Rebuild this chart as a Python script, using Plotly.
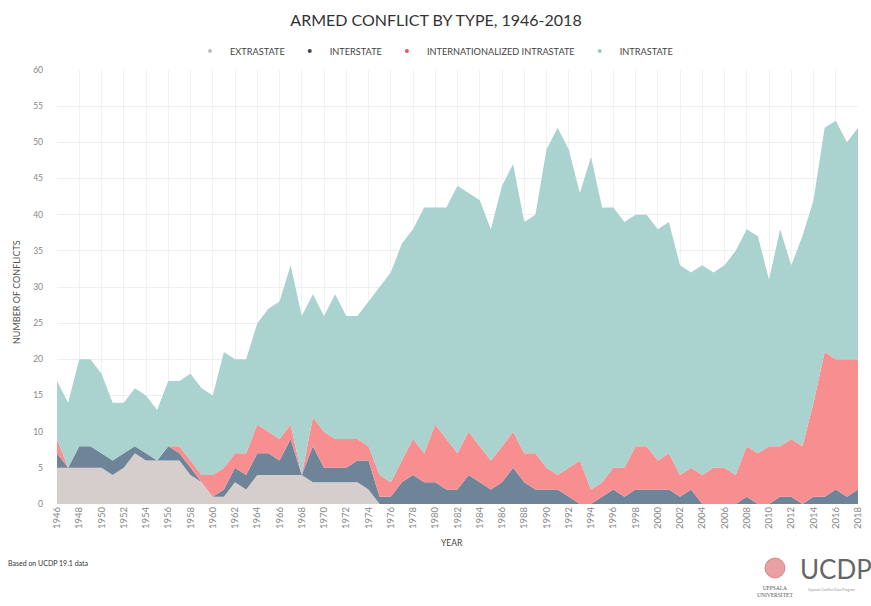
import plotly.graph_objects as go

years = list(range(1946, 2019))

extrastate = [5, 5, 5, 5, 5, 4, 5, 7, 6, 6, 6, 6, 4, 3, 1, 1, 3, 2, 4, 4,
              4, 4, 4, 3, 3, 3, 3, 3, 2, 0, 0, 0, 0, 0, 0, 0, 0, 0, 0, 0,
              0, 0, 0, 0, 0, 0, 0, 0, 0, 0, 0, 0, 0, 0, 0, 0, 0, 0, 0, 0,
              0, 0, 0, 0, 0, 0, 0, 0, 0, 0, 0, 0, 0]
interstate = [2, 0, 3, 3, 2, 2, 2, 1, 1, 0, 2, 1, 1, 0, 0, 1, 2, 2, 3, 3,
              2, 5, 0, 5, 2, 2, 2, 3, 4, 1, 1, 3, 4, 3, 3, 2, 2, 4, 3, 2,
              3, 5, 3, 2, 2, 2, 1, 0, 0, 1, 2, 1, 2, 2, 2, 2, 1, 2, 0, 0,
              0, 0, 1, 0, 0, 1, 1, 0, 1, 1, 2, 1, 2]
internationalized = [2, 0, 0, 0, 0, 0, 0, 0, 0, 0, 0, 1, 1, 1, 3, 3, 2, 3, 4, 3,
                     3, 2, 0, 4, 5, 4, 4, 3, 2, 3, 2, 3, 5, 4, 8, 7, 5, 6, 5, 4,
                     5, 5, 4, 5, 3, 2, 4, 6, 2, 2, 3, 4, 6, 6, 4, 5, 3, 3, 4, 5,
                     5, 4, 7, 7, 8, 7, 8, 8, 13, 20, 18, 19, 18]
intrastate = [8, 9, 12, 12, 11, 8, 7, 8, 8, 7, 9, 9, 12, 12, 11, 16, 13, 13, 14, 17,
              19, 22, 22, 17, 16, 20, 17, 17, 20, 26, 29, 30, 29, 34, 30, 32, 37, 33, 34, 32,
              36, 37, 32, 33, 44, 48, 44, 37, 46, 38, 36, 34, 32, 32, 32, 32, 29, 27, 29, 27,
              28, 31, 30, 30, 23, 30, 24, 29, 28, 31, 33, 30, 32]

series_names = ["EXTRASTATE", "INTERSTATE", "INTERNATIONALIZED INTRASTATE", "INTRASTATE"]
series_values = [extrastate, interstate, internationalized, intrastate]
fill_colors = ["#d6cecc", "#6e8499", "#f78e90", "#aad2cf"]
dot_colors = ["#c8bfbd", "#3a4a5c", "#e8506a", "#9cc9c6"]

FONT = "Lato, 'Open Sans', sans-serif"
W, H = 871, 606
L, R, T, B = 57, 13, 70, 102
PW, PH = W - L - R, H - T - B


def px_x(x):
    return (x - L) / PW


def px_y(y):
    return (H - B - y) / PH


fig = go.Figure()
for name, vals, fc in zip(series_names, series_values, fill_colors):
    fig.add_trace(go.Scatter(
        x=years, y=vals, name=name, stackgroup="one", mode="none",
        fillcolor=fc, showlegend=False, hoverinfo="x+y+name"))
for name, dc in zip(series_names, dot_colors):
    fig.add_trace(go.Scatter(
        x=[None], y=[None], name=name, mode="markers",
        marker=dict(size=4, color=dc), showlegend=True))

fig.update_layout(
    width=W, height=H,
    margin=dict(l=L, r=R, t=T, b=B, autoexpand=False),
    paper_bgcolor="white", plot_bgcolor="white",
    font=dict(family=FONT, color="#555"),
    title=dict(text="ARMED CONFLICT BY TYPE, 1946-2018",
               x=436 / W, xref="container", xanchor="center",
               y=1 - 20 / H, yref="container", yanchor="middle",
               font=dict(size=16, color="#333", family=FONT)),
    legend=dict(orientation="h", traceorder="normal",
                x=434 / W, xref="container", xanchor="center",
                y=1 - 51 / H, yref="container", yanchor="middle",
                font=dict(size=9.2, color="#444", family=FONT),
                itemwidth=30, bgcolor="rgba(0,0,0,0)"),
    xaxis=dict(range=[1946, 2018], tick0=1946, dtick=2, tickangle=-90,
               showgrid=True, gridcolor="#f1f1f1", gridwidth=1,
               zeroline=False, showline=False, ticks="",
               tickfont=dict(size=9.5, color="#888", family=FONT)),
    yaxis=dict(range=[0, 60], dtick=5, showgrid=True, gridcolor="#eeeeee",
               zeroline=False, showline=False, ticks="", ticklabelstandoff=13,
               tickfont=dict(size=8.5, color="#888", family=FONT)),
    hovermode="x unified",
)

annotations = [
    dict(text="NUMBER OF CONFLICTS", x=px_x(16), y=px_y(292), xref="paper", yref="paper",
         textangle=-90, showarrow=False, font=dict(size=9, color="#555", family=FONT),
         xanchor="center", yanchor="middle"),
    dict(text="YEAR", x=px_x(452), y=px_y(543), xref="paper", yref="paper",
         showarrow=False, font=dict(size=8.5, color="#444", family=FONT),
         xanchor="center", yanchor="middle"),
    dict(text="Based on UCDP 19.1 data", x=px_x(6), y=px_y(563), xref="paper", yref="paper",
         showarrow=False, font=dict(size=7, color="#333", family=FONT),
         xanchor="left", yanchor="middle"),
    dict(text="UPPSALA<br>UNIVERSITET", x=px_x(775), y=px_y(591), xref="paper", yref="paper",
         showarrow=False, font=dict(size=5.5, color="#555", family="Liberation Serif, serif"),
         xanchor="center", yanchor="middle"),
    dict(text="UCDP", x=px_x(798), y=px_y(569), xref="paper", yref="paper",
         showarrow=False, font=dict(size=26, color="#666", family=FONT),
         xanchor="left", yanchor="middle"),
    dict(text="Uppsala Conflict Data Program", x=px_x(806), y=px_y(590), xref="paper", yref="paper",
         showarrow=False, font=dict(size=3.5, color="#999", family=FONT),
         xanchor="left", yanchor="middle"),
]
fig.update_layout(annotations=annotations)

fig.add_shape(type="circle", xref="paper", yref="paper",
              x0=px_x(765), x1=px_x(785), y0=px_y(578), y1=px_y(558),
              fillcolor="rgba(218,110,115,0.65)", line=dict(color="rgba(200,80,90,0.55)", width=1))

fig.write_html("out.html",
               config={"displayModeBar": False},
               post_script="document.body.style.margin='0';document.body.style.padding='0';")
